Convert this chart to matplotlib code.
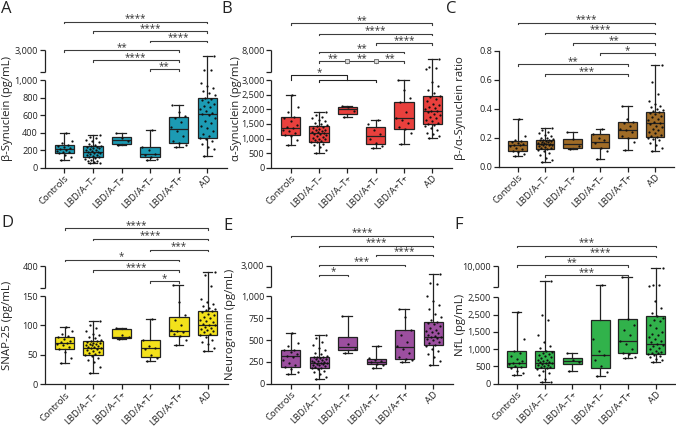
import numpy as np
import matplotlib
matplotlib.use('Agg')
import matplotlib.pyplot as plt
from matplotlib.transforms import blended_transform_factory

plt.rcParams['font.family'] = ['Open Sans', 'DejaVu Sans']

W, H = 676, 426

groups = ['Controls', 'LBD/A–T–', 'LBD/A–T+', 'LBD/A+T–', 'LBD/A+T+', 'AD']

# ---- A: beta-synuclein ----
# min, q1, median, q3, max
a_stats = [[90, 170, 210, 265, 400],
           [52, 118, 185, 245, 370],
           [262, 270, 318, 350, 400],
           [85, 120, 155, 240, 430],
           [240, 280, 448, 585, 720],
           [135, 345, 615, 800, 2450]]
a_points = [[90, 120, 150, 168, 175, 185, 195, 205, 212, 220, 235, 250, 262, 280, 310, 400],
            [52, 58, 65, 72, 80, 90, 100, 110, 118, 125, 132, 140, 150, 158, 165, 172, 180, 185,
             190, 198, 205, 212, 220, 228, 235, 240, 245, 250, 262, 275, 290, 305, 320, 335, 350, 370],
            [262, 300, 335, 400],
            [85, 105, 125, 150, 160, 200, 235, 430],
            [240, 262, 280, 300, 360, 420, 470, 520, 565, 590, 640, 720],
            [135, 210, 240, 270, 300, 330, 345, 360, 390, 420, 450, 480, 510, 540, 570, 600, 615, 630,
             650, 670, 690, 710, 730, 750, 770, 790, 800, 830, 860, 880, 910, 940, 970, 1150, 1200, 2450]]
a_ticks = [0, 200, 400, 600, 800, 1000, 3000]
a_ticklabels = ['0', '200', '400', '600', '800', '1,000', '3,000']
a_sig = [[(0, 5, '****')], [(1, 5, '****')], [(3, 5, '****')],
         [(0, 4, '**')], [(1, 4, '****')], [(3, 4, '**')]]

# ---- B: alpha-synuclein ----
b_stats = [[780, 1130, 1350, 1730, 2480],
           [520, 890, 1180, 1420, 1920],
           [1740, 1860, 2030, 2090, 2120],
           [690, 800, 1080, 1390, 1640],
           [830, 1340, 1690, 2250, 3000],
           [1030, 1500, 1930, 2450, 6000]]
b_points = [[780, 950, 1100, 1130, 1180, 1250, 1300, 1350, 1400, 1480, 1600, 1700, 1740, 1900, 2100, 2480],
            [520, 600, 700, 780, 830, 870, 890, 920, 950, 980, 1000, 1030, 1060, 1090, 1120, 1150, 1170, 1190,
             1210, 1240, 1260, 1290, 1310, 1340, 1370, 1400, 1420, 1450, 1500, 1550, 1600, 1650, 1700, 1750,
             1820, 1920],
            [1740, 1950, 2100, 2120],
            [690, 760, 850, 1000, 1150, 1300, 1500, 1640],
            [830, 1200, 1340, 1400, 1550, 1650, 1720, 1900, 2250, 2400, 2650, 3000],
            [1030, 1080, 1150, 1200, 1280, 1350, 1420, 1480, 1500, 1550, 1600, 1650, 1700, 1750, 1800, 1850,
             1900, 1930, 1960, 2000, 2050, 2100, 2150, 2200, 2280, 2350, 2420, 2450, 2550, 2650, 2800, 2950,
             3600, 3800, 4000, 6000]]
b_ticks = [0, 500, 1000, 1500, 2000, 2500, 3000, 8000]
b_ticklabels = ['0', '500', '1,000', '1,500', '2,000', '2,500', '3,000', '8,000']
b_sig = [[(0, 5, '**')], [(1, 5, '****')], [(3, 5, '****')], [(1, 4, '**')],
         [(1, 2, '**'), (2, 3, '**'), (3, 4, '**')]]
b_group = (0, (1, 3), '*')

# ---- C: beta/alpha ratio ----
c_stats = [[0.07, 0.11, 0.15, 0.175, 0.325],
           [0.03, 0.12, 0.155, 0.185, 0.265],
           [0.12, 0.13, 0.155, 0.19, 0.235],
           [0.05, 0.13, 0.17, 0.225, 0.26],
           [0.115, 0.195, 0.255, 0.305, 0.42],
           [0.11, 0.205, 0.30, 0.375, 0.70]]
c_points = [[0.07, 0.085, 0.10, 0.11, 0.12, 0.13, 0.14, 0.145, 0.15, 0.155, 0.16, 0.17, 0.175, 0.185, 0.21, 0.325],
            [0.03, 0.045, 0.06, 0.08, 0.095, 0.105, 0.115, 0.12, 0.125, 0.13, 0.135, 0.14, 0.145, 0.148, 0.15,
             0.153, 0.155, 0.158, 0.16, 0.163, 0.166, 0.17, 0.173, 0.176, 0.18, 0.183, 0.185, 0.19, 0.195, 0.2,
             0.21, 0.22, 0.23, 0.24, 0.25, 0.265],
            [0.12, 0.14, 0.19, 0.235],
            [0.05, 0.11, 0.13, 0.16, 0.18, 0.2, 0.225, 0.26],
            [0.115, 0.17, 0.195, 0.21, 0.235, 0.25, 0.26, 0.28, 0.3, 0.31, 0.33, 0.42],
            [0.11, 0.13, 0.15, 0.165, 0.18, 0.19, 0.2, 0.205, 0.21, 0.22, 0.23, 0.24, 0.25, 0.26, 0.27, 0.28,
             0.29, 0.3, 0.31, 0.32, 0.33, 0.34, 0.35, 0.36, 0.37, 0.375, 0.38, 0.39, 0.4, 0.41, 0.42, 0.43,
             0.45, 0.5, 0.58, 0.70]]
c_ticks = [0.0, 0.2, 0.4, 0.6, 0.8]
c_ticklabels = ['0.0', '0.2', '0.4', '0.6', '0.8']
c_sig = [[(0, 5, '****')], [(1, 5, '****')], [(2, 5, '**')], [(3, 5, '*')],
         [(0, 4, '**')], [(1, 4, '***')]]

# ---- D: SNAP-25 ----
d_stats = [[37, 60, 71, 81, 98],
           [20, 50, 62, 73, 108],
           [77, 79, 80, 94, 96],
           [39, 47, 62, 75, 111],
           [66, 82, 90, 115, 190],
           [57, 83, 100, 124, 330]]
d_points = [[37, 45, 55, 60, 63, 66, 68, 70, 72, 74, 77, 80, 82, 85, 90, 98],
            [20, 30, 38, 42, 45, 48, 50, 52, 54, 55, 57, 58, 60, 61, 62, 63, 64, 65, 66, 67, 68, 69, 70,
             71, 72, 73, 74, 76, 78, 80, 83, 86, 90, 95, 100, 108],
            [77, 80, 83, 96],
            [39, 44, 50, 60, 62, 65, 75, 111],
            [66, 75, 82, 85, 88, 90, 92, 100, 110, 118, 140, 190],
            [57, 62, 68, 72, 76, 80, 83, 85, 88, 90, 92, 94, 96, 98, 100, 101, 103, 105, 107, 110, 112,
             115, 118, 120, 122, 124, 126, 128, 130, 133, 136, 140, 145, 170, 300, 330]]
d_ticks = [0, 50, 100, 150, 400]
d_ticklabels = ['0', '50', '100', '150', '400']
d_sig = [[(0, 5, '****')], [(1, 5, '****')], [(3, 5, '***')],
         [(0, 4, '*')], [(1, 4, '****')], [(3, 4, '*')]]

# ---- E: neurogranin ----
e_stats = [[112, 195, 315, 385, 580],
           [50, 175, 235, 310, 555],
           [350, 385, 425, 530, 775],
           [175, 222, 250, 285, 430],
           [245, 285, 415, 615, 855],
           [218, 445, 535, 705, 2250]]
e_points = [[112, 130, 170, 195, 210, 240, 270, 300, 320, 340, 360, 380, 390, 430, 470, 580],
            [50, 80, 110, 130, 150, 165, 175, 185, 195, 200, 210, 215, 220, 228, 235, 240, 245, 250,
             258, 265, 272, 280, 288, 295, 300, 305, 310, 320, 335, 350, 380, 410, 440, 480, 520, 555],
            [350, 400, 450, 775],
            [175, 215, 230, 245, 255, 270, 290, 430],
            [245, 270, 285, 300, 350, 400, 430, 480, 560, 620, 760, 855],
            [218, 260, 300, 340, 370, 400, 430, 445, 460, 480, 500, 510, 520, 530, 540, 550, 560, 575,
             590, 605, 620, 640, 660, 680, 700, 710, 730, 760, 800, 850, 900, 950, 1000, 1300, 1350, 2250]]
e_ticks = [0, 250, 500, 750, 1000, 3000]
e_ticklabels = ['0', '250', '500', '750', '1,000', '3,000']
e_sig = [[(0, 5, '****')], [(1, 5, '****')], [(3, 5, '****')], [(1, 4, '***')], [(1, 2, '*')]]

# ---- F: NfL ----
f_stats = [[260, 480, 600, 950, 2080],
           [40, 450, 610, 935, 4600],
           [380, 575, 665, 745, 875],
           [220, 450, 840, 1830, 3300],
           [730, 900, 1250, 1870, 6000],
           [640, 870, 1140, 1970, 9400]]
f_points = [[260, 300, 380, 450, 480, 520, 560, 590, 610, 650, 720, 800, 900, 960, 1300, 2080],
            [40, 60, 150, 250, 320, 380, 420, 450, 470, 490, 510, 530, 550, 570, 590, 600, 620, 640,
             660, 680, 700, 730, 760, 790, 820, 850, 880, 920, 960, 1020, 1100, 1200, 1400, 1850, 2000, 4600],
            [380, 620, 700, 875],
            [220, 350, 500, 700, 840, 950, 1300, 3300],
            [730, 780, 850, 900, 1000, 1150, 1250, 1400, 1550, 1700, 1870, 6000],
            [640, 680, 720, 760, 800, 830, 860, 880, 900, 930, 960, 1000, 1040, 1080, 1120, 1150, 1200,
             1250, 1300, 1350, 1400, 1450, 1500, 1600, 1700, 1800, 1850, 1900, 1950, 2050, 2200, 2400,
             3000, 3200, 3400, 9400]]
f_ticks = [0, 500, 1000, 1500, 2000, 2500, 10000]
f_ticklabels = ['0', '500', '1,000', '1,500', '2,500', '2,500', '10,000']
f_sig = [[(0, 5, '***')], [(1, 5, '****')], [(0, 4, '**')], [(1, 4, '***')]]

LINE = '#222222'
BRK = '#3c3c3c'


def broken_scale(b, u, y0, yb, yg, yt):
    # piecewise linear y scale: 0..b below the gap, b..u squeezed above it
    h1 = y0 - yb
    gap = (yb - yg) * b / h1
    k = (yg - yt) * b / (h1 * (u - b))

    def fwd(y):
        y = np.asarray(y, dtype=float)
        return np.where(y <= b, y, b + gap + (y - b) * k)

    def inv(t):
        t = np.asarray(t, dtype=float)
        return np.where(t <= b, t, np.where(t < b + gap, b, b + (t - b - gap) / k))
    return fwd, inv


def panel(fig, letter, color, ylabel, stats, points, ticks, ticklabels, sig,
          geo, brk, levels, letter_xy, label_x, group=None):
    c0, c5, y0, yt = geo
    sp = (c5 - c0) / 5.0
    xl, xr = -0.68, 5.7
    left = c0 + xl * sp
    right = c0 + xr * sp
    ax = fig.add_axes([left / W, 1 - y0 / H, (right - left) / W, (y0 - yt) / H])

    if brk is not None:
        b, u, yb, yg = brk
        ax.set_yscale('function', functions=broken_scale(b, u, y0, yb, yg, yt))
        top = u
    else:
        top = ticks[-1]

    bxp_stats = [dict(whislo=s[0], q1=s[1], med=s[2], q3=s[3], whishi=s[4], fliers=[]) for s in stats]
    ax.bxp(bxp_stats, positions=range(6), widths=0.68, capwidths=0.32, patch_artist=True,
           showfliers=False, manage_ticks=False,
           boxprops=dict(facecolor=color, edgecolor=LINE, linewidth=0.9),
           medianprops=dict(color=LINE, linewidth=0.9),
           whiskerprops=dict(color=LINE, linewidth=0.9),
           capprops=dict(color=LINE, linewidth=0.9))

    for i, vals in enumerate(points):
        n = len(vals)
        off = ((np.arange(n) * 0.618034 + 0.31) % 1.0 - 0.5) * 0.56
        ax.scatter(i + off, vals, s=2.6, color='#111111', linewidths=0, zorder=4)

    for s in ['top', 'right']:
        ax.spines[s].set_visible(False)
    ax.spines['bottom'].set_color(LINE)
    ax.spines['bottom'].set_linewidth(0.9)
    ax.spines['left'].set_color(LINE)
    ax.spines['left'].set_linewidth(0.9)

    ax.set_yticks(ticks, ticklabels)
    if brk is not None:
        b, u, yb, yg = brk
        ax.spines['left'].set_visible(False)
        tr = blended_transform_factory(ax.transAxes, ax.transData)
        ax.plot([0, 0], [0, b], transform=tr, color=LINE, lw=0.9, clip_on=False,
                solid_capstyle='butt')
        ax.plot([0, 0], [b * (1 + 1e-7), u], transform=tr, color=LINE, lw=0.9, clip_on=False,
                solid_capstyle='butt')
        ax.set_yticks([b * (1 + 1e-7)], minor=True)
    ax.tick_params(axis='both', which='both', length=3.5, width=0.9, color=LINE,
                   labelcolor='#222222')
    ax.tick_params(axis='y', which='both', labelsize=6.6, pad=1.5)
    ax.tick_params(axis='x', labelsize=6.8, pad=0.8)
    ax.set_xticks(range(6))
    ax.set_xticklabels(groups, rotation=45, ha='right', va='top', rotation_mode='anchor')
    ax.set_ylabel(ylabel, fontsize=8.2, va='center', color='#222222')
    ax.yaxis.set_label_coords((label_x - left) / (right - left), 0.5)

    # significance brackets
    trb = blended_transform_factory(ax.transData, ax.transAxes)
    ah = y0 - yt

    def yf(px):
        return (y0 - px) / ah
    tk = 1.6 / ah
    for lev, items in zip(levels, sig):
        y = yf(lev)
        for (i, j, txt) in items:
            ax.plot([i, i, j, j], [y - tk, y, y, y - tk], transform=trb, color=BRK, lw=0.8,
                    clip_on=False)
            ax.text((i + j) / 2.0, y + 0.3 / ah, txt, transform=trb, ha='center', va='baseline',
                    fontsize=7, color='#333333', clip_on=False)
        if len(items) > 1:
            for (i, j, txt) in items[1:]:
                ax.plot([i], [y], transform=trb, marker='s', ms=2.4, mfc='#d8d8d8', mec='#666666',
                        mew=0.6, clip_on=False, zorder=5)
    if group is not None:
        g0, (g1, g2), txt = group
        ytop_b = yf(levels[len(sig)])
        ylow_b = yf(levels[len(sig)] + 5)
        xm = (g1 + g2) / 2.0
        ax.plot([g0, g0, xm, xm], [ylow_b, ytop_b, ytop_b, ylow_b], transform=trb, color=LINE,
                lw=0.8, clip_on=False)
        ax.plot([g1, g1, g2, g2], [ylow_b - tk, ylow_b, ylow_b, ylow_b - tk], transform=trb,
                color=LINE, lw=0.8, clip_on=False)
        ax.text((g0 + xm) / 2.0, ytop_b + 0.3 / ah, txt, transform=trb, ha='center',
                va='baseline', fontsize=7, color='#333333', clip_on=False)

    ax.set_xlim(xl, xr)
    ax.set_ylim(0, top)
    fig.text(letter_xy[0] / W, 1 - letter_xy[1] / H, letter, fontsize=12, ha='left', va='top',
             color='#222222')
    return ax


fig = plt.figure(figsize=(W / 100, H / 100), dpi=100)
fig.patch.set_facecolor('white')

panel(fig, 'A', '#1c9bb4', 'β-Synuclein (pg/mL)', a_stats, a_points, a_ticks, a_ticklabels, a_sig,
      (64.3, 207.3, 167.7, 50.0), (1000, 3000, 80.3, 71.7),
      [21.7, 31.0, 40.7, 50.0, 60.0, 69.3], (1, 1), 7.5)
panel(fig, 'B', '#e9403d', 'α-Synuclein (pg/mL)', b_stats, b_points, b_ticks, b_ticklabels, b_sig,
      (290.7, 432.3, 167.7, 50.0), (3000, 8000, 80.3, 71.7),
      [23.3, 33.7, 43.3, 51.7, 61.3, 75.0], (221, 1), 237, group=b_group)
panel(fig, 'C', '#a06c27', 'β-/α-Synuclein ratio', c_stats, c_points, c_ticks, c_ticklabels, c_sig,
      (517.7, 655.0, 166.5, 50.5), None,
      [22.7, 32.7, 43.3, 53.3, 64.0, 74.0], (446, 1), 460)
panel(fig, 'D', '#f3e11b', 'SNAP-25 (pg/mL)', d_stats, d_points, d_ticks, d_ticklabels, d_sig,
      (64.5, 207.5, 384.3, 266.3), (150, 400, 296.0, 288.0),
      [228.0, 238.7, 249.7, 259.7, 270.3, 281.3], (1, 215), 7.5)
panel(fig, 'E', '#9c4f9f', 'Neurogranin (pg/mL)', e_stats, e_points, e_ticks, e_ticklabels, e_sig,
      (290.7, 433.3, 383.7, 265.7), (1000, 3000, 296.3, 287.0),
      [235.7, 245.7, 254.7, 264.7, 274.7], (223, 218), 231)
panel(fig, 'F', '#31b24b', 'NfL (pg/mL)', f_stats, f_points, f_ticks, f_ticklabels, f_sig,
      (516.7, 655.7, 383.7, 266.3), (2500, 10000, 297.3, 287.0),
      [245.7, 255.7, 265.3, 275.3], (454, 217), 460)

fig.savefig('out.png', dpi=100, facecolor='white')
